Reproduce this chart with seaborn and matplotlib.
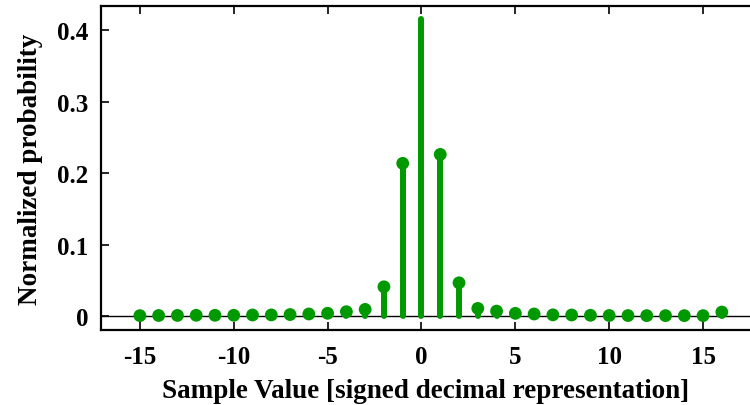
import numpy as np
import pandas as pd
import matplotlib
matplotlib.use("Agg")
import matplotlib.pyplot as plt
import seaborn as sns

sample_values = list(range(-15, 17))
probabilities = [0.0005, 0.0007, 0.0008, 0.0010, 0.0010, 0.0010, 0.0014, 0.0015,
                 0.0020, 0.0028, 0.0038, 0.0060, 0.0092, 0.0408, 0.2135, 0.4150,
                 0.2260, 0.0464, 0.0106, 0.0068, 0.0037, 0.0028, 0.0016, 0.0014,
                 0.0010, 0.0007, 0.0006, 0.0005, 0.0005, 0.0005, 0.0005, 0.0055]
x_ticks = [-15, -10, -5, 0, 5, 10, 15]
y_ticks = [0, 0.1, 0.2, 0.3, 0.4]
y_tick_labels = ["0", "0.1", "0.2", "0.3", "0.4"]

sns.set_theme(style="ticks")
plt.rcParams["font.family"] = ["Liberation Serif", "DejaVu Serif"]
plt.rcParams["font.weight"] = "bold"

df = pd.DataFrame({"x": sample_values, "p": probabilities})
green = "#009a00"

fig = plt.figure(figsize=(7.5, 4.06), dpi=100)
ax = fig.add_axes([0.1347, 0.1847, 0.8653, 0.7981])

ax.axhline(0, color="black", lw=1.0, zorder=1)
lc = ax.vlines(df["x"], 0, df["p"], color=green, lw=4.3, zorder=2)
lc.set_capstyle("round")
mk = df[df["p"] < df["p"].max()]
sns.scatterplot(data=mk, x="x", y="p", ax=ax, color=green, s=85,
                edgecolor="none", zorder=3, legend=False)

ax.set_xlim(-17.07, 17.5)
ax.set_ylim(-0.0196, 0.4336)
ax.set_xticks(x_ticks)
ax.set_xticklabels([str(t) for t in x_ticks])
ax.set_yticks(y_ticks)
ax.set_yticklabels(y_tick_labels)

for s in ["left", "bottom", "top"]:
    ax.spines[s].set_linewidth(1.6)
    ax.spines[s].set_color("black")
ax.spines["right"].set_visible(False)

ax.tick_params(axis="x", direction="in", length=6, width=1.2, top=True,
               bottom=True, pad=11, labelsize=18, colors="black")
ax.tick_params(axis="y", direction="in", length=6, width=1.2, left=True,
               right=False, pad=9, labelsize=18, colors="black")
for lab in ax.get_xticklabels() + ax.get_yticklabels():
    lab.set_fontweight("bold")

ax.set_xlabel("Sample Value [signed decimal representation]", fontsize=19.5,
              fontweight="bold", labelpad=7, color="black")
ax.set_ylabel("Normalized probability", fontsize=19.5, fontweight="bold",
              labelpad=10, color="black")

fig.savefig("out.png", dpi=100)
